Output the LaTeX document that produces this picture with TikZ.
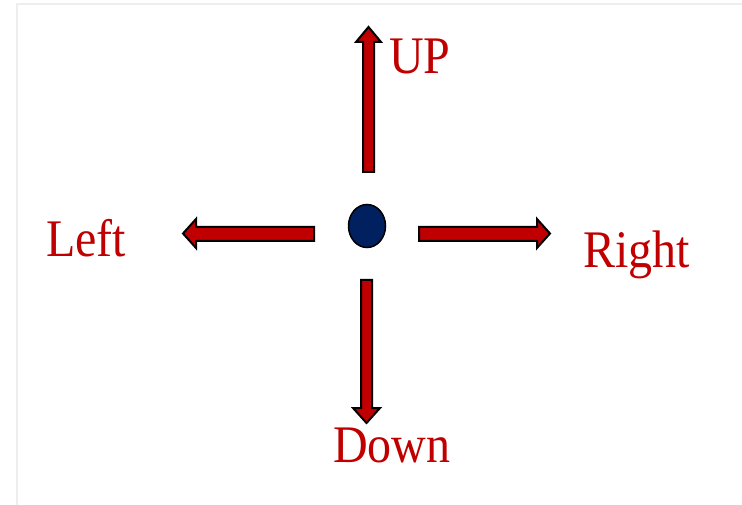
\documentclass[tikz,border=0pt]{standalone}
\usepackage{fontspec}
\setmainfont{Liberation Serif}
\usetikzlibrary{shapes.geometric}
\definecolor{arrred}{HTML}{C00000}
\definecolor{dotblue}{HTML}{002060}
\definecolor{framegray}{HTML}{EEEEEE}
\newcommand{\tallword}[1]{\scalebox{1}[1.1]{#1}}
\begin{document}
\begin{tikzpicture}[x=1pt,y=-1pt,
  arrowshape/.style={fill=arrred,draw=black,line width=2pt,line join=miter},
  label/.style={text=arrred,font=\fontsize{48}{56}\selectfont,inner sep=0pt,anchor=base west}]
\useasboundingbox (0,0) rectangle (742,505);
\draw[framegray,line width=2pt] (16.5,505) -- (16.5,4.5) -- (742,4.5);
% up arrow
\filldraw[arrowshape] (363,172) -- (363,42) -- (356,42) -- (368.5,27) -- (381,42) -- (374,42) -- (374,172) -- cycle;
% down arrow
\filldraw[arrowshape] (361,280) -- (372,280) -- (372,408) -- (380,408) -- (366.5,423) -- (353,408) -- (361,408) -- cycle;
% left arrow
\filldraw[arrowshape] (314,227) -- (196,227) -- (196,219) -- (183,233.5) -- (196,248) -- (196,241) -- (314,241) -- cycle;
% right arrow
\filldraw[arrowshape] (419,227) -- (537,227) -- (537,219) -- (550,233.5) -- (537,248) -- (537,241) -- (419,241) -- cycle;
% dot
\node[ellipse,fill=dotblue,draw=black,line width=1.5pt,minimum width=37pt,minimum height=43pt,inner sep=0pt] (dot) at (367,226) {};
% labels
\node[label] (up) at (389,73.5) {\tallword{UP}};
\node[label] (left) at (46,256.5) {\tallword{Left}};
\node[label] (right) at (583,267.5) {\tallword{Right}};
\node[label] (down) at (333,462.5) {\tallword{Down}};
\end{tikzpicture}
\end{document}
